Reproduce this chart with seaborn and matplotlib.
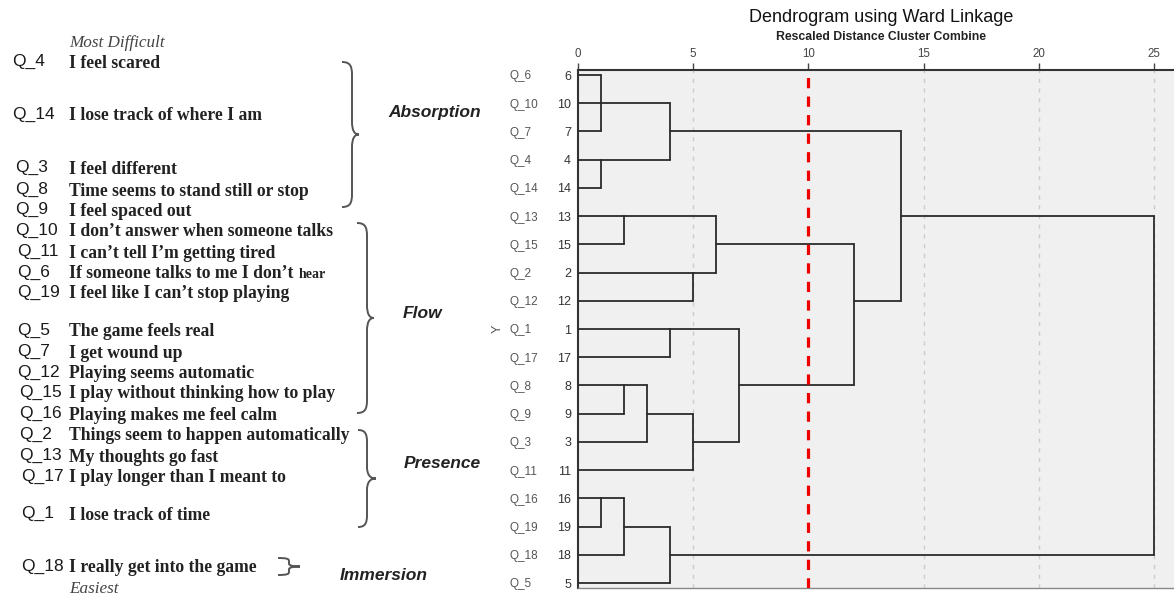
import numpy as np
import pandas as pd
import matplotlib.pyplot as plt
import matplotlib.transforms as mtransforms
from matplotlib.path import Path
from matplotlib.patches import PathPatch
import seaborn as sns

# items ranked from most difficult to easiest
item_codes = ['Q_4', 'Q_14', 'Q_3', 'Q_8', 'Q_9', 'Q_10', 'Q_11', 'Q_6', 'Q_19',
              'Q_5', 'Q_7', 'Q_12', 'Q_15', 'Q_16', 'Q_2', 'Q_13', 'Q_17', 'Q_1', 'Q_18']
item_texts = ['I feel scared', 'I lose track of where I am', 'I feel different',
              'Time seems to stand still or stop', 'I feel spaced out',
              'I don\u2019t answer when someone talks', 'I can\u2019t tell I\u2019m getting tired',
              'If someone talks to me I don\u2019t', 'I feel like I can\u2019t stop playing',
              'The game feels real', 'I get wound up', 'Playing seems automatic',
              'I play without thinking how to play', 'Playing makes me feel calm',
              'Things seem to happen automatically', 'My thoughts go fast',
              'I play longer than I meant to', 'I lose track of time',
              'I really get into the game']
groups = ['Absorption', 'Flow', 'Presence', 'Immersion']
group_sizes = [5, 9, 4, 1]

# dendrogram (Ward linkage, rescaled distance)
leaf_order = ['6', '10', '7', '4', '14', '13', '15', '2', '12', '1', '17',
              '8', '9', '3', '11', '16', '19', '18', '5']
merge_children = [['6', '10', '7'], ['4', '14'], ['m0', 'm1'], ['13', '15'], ['2', '12'],
                  ['m3', 'm4'], ['1', '17'], ['8', '9'], ['m7', '3'], ['m8', '11'],
                  ['m6', 'm9'], ['m5', 'm10'], ['m2', 'm11'], ['16', '19'], ['m13', '18'],
                  ['m14', '5'], ['m12', 'm15']]
merge_heights = [1, 1, 4, 2, 5, 6, 4, 2, 3, 5, 7, 12, 14, 1, 2, 4, 25]
cut_level = 10

# layout of the left panel (pixel rows)
item_y = [62, 115, 168, 190, 210, 231, 252, 273, 293, 331, 352, 373, 393, 414,
          435, 456, 477, 514, 567]
code_x = [12, 12, 15, 15, 15, 15, 17, 17, 17, 17, 17, 17, 19, 19, 19, 19, 21, 21, 21]
brace_top = [62, 223, 430, 558]
brace_bot = [207, 413, 527, 575]
brace_x0 = [342, 357, 358, 278]
brace_xs = [352, 367, 367, 289]
brace_tip = [359, 374, 376, 300]
brace_r = [13, 13, 12, 3]
label_x = [388, 403, 404, 340]
label_y = [112, 313, 463, 576]

sns.set_style('white')
plt.rcParams['font.family'] = ['Liberation Sans', 'DejaVu Sans']

W, H = 1174, 597
fig = plt.figure(figsize=(W / 100, H / 100), dpi=100)

# ---- left panel: ranked items with braces
axl = fig.add_axes([0, 0, 1, 1])
axl.set_xlim(0, W)
axl.set_ylim(H, 0)
axl.axis('off')

serif = ['Liberation Serif', 'DejaVu Serif']
axl.text(69, 43, 'Most Difficult', family=serif, style='italic', fontsize=12.3,
         color='#444444', va='center')
axl.text(69, 589, 'Easiest', family=serif, style='italic', fontsize=12.3,
         color='#444444', va='center')
for code, txt, y, cx in zip(item_codes, item_texts, item_y, code_x):
    axl.text(cx, y - 1, code, fontsize=12.5, color='#1a1a1a', va='center')
    axl.text(69, y + 1, txt, family=serif, weight='bold', fontsize=12.7,
             color='#222222', va='center')
    if code == 'Q_6':
        axl.text(299, y + 2, 'hear', family=serif, weight='bold', fontsize=10,
                 color='#222222', va='center')


def brace(ax, x0, xs, xt, yt, yb, r):
    ym = (yt + yb) / 2
    tx = xs + (xt - xs) * 0.35
    verts = [(x0, yt), (xs - 2, yt), (xs, yt + r * 0.3), (xs, yt + r),
             (xs, ym - r), (xs, ym - r * 0.3), (tx, ym), (xt, ym),
             (tx, ym), (xs, ym + r * 0.3), (xs, ym + r),
             (xs, yb - r), (xs, yb - r * 0.3), (xs - 2, yb), (x0, yb)]
    codes = [Path.MOVETO, Path.CURVE4, Path.CURVE4, Path.CURVE4,
             Path.LINETO, Path.CURVE4, Path.CURVE4, Path.CURVE4,
             Path.CURVE4, Path.CURVE4, Path.CURVE4,
             Path.LINETO, Path.CURVE4, Path.CURVE4, Path.CURVE4]
    ax.add_patch(PathPatch(Path(verts, codes), fill=False, lw=1.4, edgecolor='#555555'))


for i, g in enumerate(groups):
    brace(axl, brace_x0[i], brace_xs[i], brace_tip[i], brace_top[i], brace_bot[i], brace_r[i])
    axl.text(label_x[i], label_y[i], g, weight='bold', style='italic', fontsize=12.5,
             color='#222222', va='center')

# ---- right panel: dendrogram
ax = fig.add_axes([578 / W, 1 - 588 / H, 596 / W, (588 - 70) / H])
ax.set_facecolor('#f0f0f0')

node = {leaf: (i, 0.0) for i, leaf in enumerate(leaf_order)}
rows = []
seg = 0
for k, (kids, h) in enumerate(zip(merge_children, merge_heights)):
    kid_rows = []
    for c in kids:
        r, x = node[c]
        kid_rows.append(r)
        rows += [(seg, x, r), (seg, h, r)]
        seg += 1
    rows += [(seg, h, min(kid_rows)), (seg, h, max(kid_rows))]
    seg += 1
    node['m%d' % k] = ((min(kid_rows) + max(kid_rows)) // 2, h)
seg_df = pd.DataFrame(rows, columns=['seg', 'x', 'y'])

for v in [5, 15, 20, 25]:
    ax.axvline(v, color='#cccccc', lw=1, dashes=(3, 4), zorder=0)
sns.lineplot(data=seg_df, x='x', y='y', units='seg', estimator=None, sort=False,
             color='#2b2b2b', lw=1.3, ax=ax, zorder=3)
ax.axvline(cut_level, color='#ee0000', lw=2.3, dashes=(3.2, 2.6), zorder=4)

step = (583 - 75) / 18
ax.set_xlim(0, 596 / ((1154 - 578) / 25))
ax.set_ylim(18 + 5 / step, -5 / step)
ax.xaxis.tick_top()
ax.set_xticks([0, 5, 10, 15, 20, 25])
ax.set_yticks(range(len(leaf_order)))
ax.set_yticklabels(leaf_order)
ax.set_xlabel('')
ax.set_ylabel('')
ax.tick_params(axis='x', direction='out', length=5, width=1, color='#444444',
               labelsize=8.3, labelcolor='#444444', pad=2)
ax.tick_params(axis='y', direction='out', length=4, width=1, color='#444444',
               labelsize=9, labelcolor='#333333', pad=1)
for s in ['left', 'top']:
    ax.spines[s].set_color('#333333')
    ax.spines[s].set_linewidth(1.5)
ax.spines['bottom'].set_color('#888888')
ax.spines['bottom'].set_linewidth(1)
ax.spines['right'].set_visible(False)

trans = mtransforms.blended_transform_factory(ax.transAxes, ax.transData)
for i, leaf in enumerate(leaf_order):
    ax.text((510 - 578) / 596, i + 0.05, 'Q_' + leaf, transform=trans, fontsize=8.5,
            color='#555555', va='center', ha='left')
ax.text((498 - 578) / 596, 9, 'Y', transform=trans, rotation=90, fontsize=9,
        color='#555555', va='center', ha='center')

fig.text(881 / W, 1 - 18 / H, 'Dendrogram using Ward Linkage', fontsize=13,
         color='#111111', ha='center', va='center')
fig.text(881 / W, 1 - 37 / H, 'Rescaled Distance Cluster Combine', fontsize=8.8,
         weight='bold', color='#222222', ha='center', va='center')

fig.savefig('out.png', dpi=100)
